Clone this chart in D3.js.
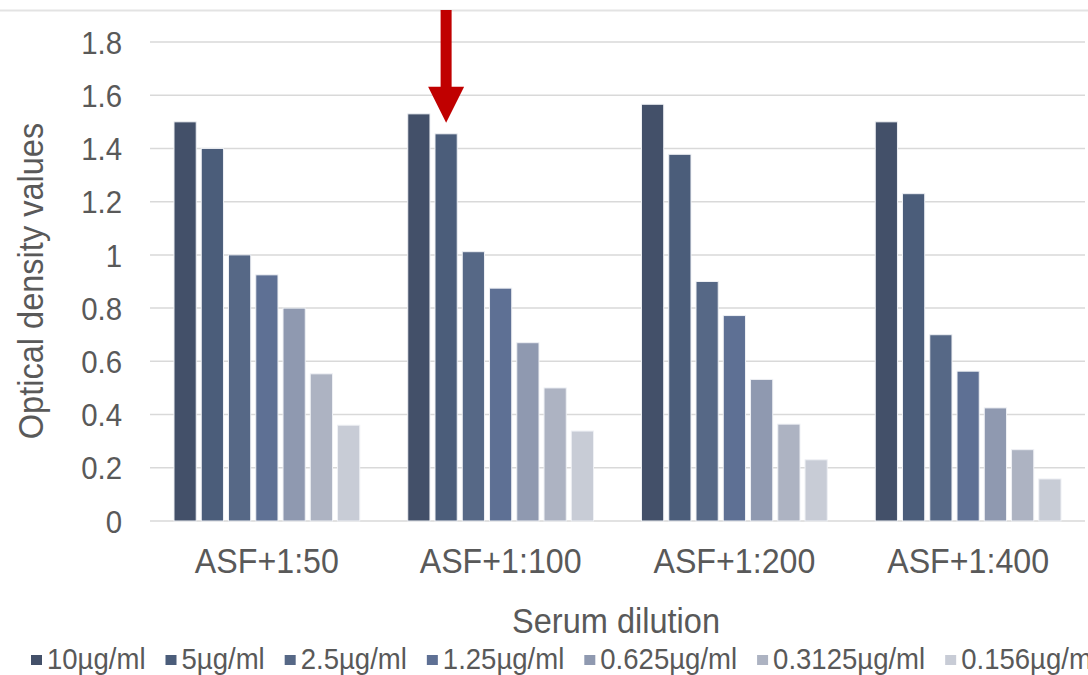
<!DOCTYPE html>
<html>
<head>
<meta charset="utf-8">
<script src="https://cdn.jsdelivr.net/npm/d3@7"></script>
<style>
  body { margin: 0; background: #fff; }
  svg text { font-family: "Liberation Sans", Arial, sans-serif; fill: #595959; }
</style>
</head>
<body>
<div id="chart"></div>
<script>
// dilution groups on the x axis
var categories = ["ASF+1:50", "ASF+1:100", "ASF+1:200", "ASF+1:400"];

// antigen concentrations (one series each)
var series = ["10µg/ml", "5µg/ml", "2.5µg/ml", "1.25µg/ml", "0.625µg/ml", "0.3125µg/ml", "0.156µg/ml"];
var seriesColors = ["#435069", "#4b5d7a", "#566886", "#5e7094", "#8f99b0", "#adb3c2", "#c8ccd6"];

// OD values, one array per dilution, in series order
var od_1_50  = [1.50, 1.40, 1.00, 0.925, 0.80, 0.553, 0.36];
var od_1_100 = [1.53, 1.455, 1.012, 0.875, 0.67, 0.50, 0.338];
var od_1_200 = [1.566, 1.378, 0.90, 0.772, 0.532, 0.364, 0.23];
var od_1_400 = [1.50, 1.23, 0.70, 0.563, 0.425, 0.268, 0.158];
var values = [od_1_50, od_1_100, od_1_200, od_1_400];

var yTicks = [0, 0.2, 0.4, 0.6, 0.8, 1, 1.2, 1.4, 1.6, 1.8];

// the arrow marks this bar
var highlight = { category: "ASF+1:100", series: "5µg/ml" };

var width = 1088, height = 675;
var margin = { left: 150, right: 3, top: 42, bottom: 154 };

var svg = d3.select("#chart").append("svg")
    .attr("width", width)
    .attr("height", height);

// the source font is a bit condensed, squeeze text horizontally
function narrowText(sel, x, yPos, sx) {
    sel.attr("transform", "translate(" + x + "," + yPos + ") scale(" + sx + ",1)")
        .attr("x", 0).attr("y", 0);
}

// thin page rule at the very top
svg.append("line")
    .attr("x1", 0).attr("x2", width)
    .attr("y1", 10.5).attr("y2", 10.5)
    .attr("stroke", "#e3e3e3").attr("stroke-width", 2);

var x0 = d3.scaleBand()
    .domain(categories)
    .range([margin.left, width - margin.right]);

var x1 = d3.scaleBand()
    .domain(series)
    .range([24, x0.bandwidth() - 24])
    .paddingInner(0.185);

var y = d3.scaleLinear()
    .domain([0, 1.8])
    .range([height - margin.bottom, margin.top]);

// gridlines
svg.append("g")
    .selectAll("line")
    .data(yTicks)
    .enter().append("line")
    .attr("x1", margin.left).attr("x2", width - margin.right)
    .attr("y1", function(d) { return y(d); })
    .attr("y2", function(d) { return y(d); })
    .attr("stroke", "#d9d9d9")
    .attr("stroke-width", 1.5);

// y tick labels
var yAxis = svg.append("g")
    .attr("transform", "translate(" + (margin.left - 25) + ",0)")
    .call(d3.axisLeft(y).tickValues(yTicks).tickSize(0).tickFormat(function(d) { return String(d); }));
yAxis.select(".domain").remove();
yAxis.selectAll("text")
    .attr("font-size", 31)
    .attr("font-family", "Liberation Sans, Arial, sans-serif")
    .attr("fill", "#595959")
    .attr("dy", "0.36em")
    .attr("transform", "scale(0.95,1)");

// bars
var groups = svg.append("g")
    .selectAll("g")
    .data(categories)
    .enter().append("g")
    .attr("transform", function(d) { return "translate(" + x0(d) + ",0)"; });

groups.selectAll("rect")
    .data(function(d, i) {
        return series.map(function(s, j) { return { category: d, series: s, value: values[i][j], idx: j }; });
    })
    .enter().append("rect")
    .attr("x", function(d) { return x1(d.series); })
    .attr("width", x1.bandwidth())
    .attr("y", function(d) { return y(d.value); })
    .attr("height", function(d) { return y(0) - y(d.value); })
    .attr("fill", function(d) { return seriesColors[d.idx]; })
    .attr("stroke", "#eef0f4")
    .attr("stroke-width", 1);

// category labels
svg.append("g")
    .selectAll("text")
    .data(categories)
    .enter().append("text")
    .attr("text-anchor", "middle")
    .attr("font-size", 35)
    .text(function(d) { return d; })
    .each(function(d) {
        narrowText(d3.select(this), x0(d) + x0.bandwidth() / 2, 572.5, 0.92);
    });

// axis titles
narrowText(svg.append("text")
    .attr("text-anchor", "middle")
    .attr("font-size", 35)
    .text("Serum dilution"), 616, 633, 0.93);

svg.append("text")
    .attr("transform", "translate(43,281) rotate(-90) scale(0.93,1)")
    .attr("text-anchor", "middle")
    .attr("font-size", 35)
    .text("Optical density values");

// legend
var legend = svg.append("g").attr("transform", "translate(31,658)");
var lx = 0;
series.forEach(function(s, i) {
    var item = legend.append("g").attr("transform", "translate(" + lx + ",0)");
    item.append("rect")
        .attr("x", 0).attr("y", -3)
        .attr("width", 11).attr("height", 10)
        .attr("fill", seriesColors[i]);
    var t = item.append("text")
        .attr("font-size", 29)
        .text(s);
    narrowText(t, 16, 10.5, 0.95);
    lx += 16 + t.node().getComputedTextLength() * 0.95 + 20;
});

// red arrow pointing at the highlighted bar
var ax = x0(highlight.category) + x1(highlight.series) + x1.bandwidth() / 2;
var tipY = y(1.455) - 11;
svg.append("rect")
    .attr("x", ax - 5.5).attr("y", 10)
    .attr("width", 11).attr("height", tipY - 34 - 10)
    .attr("fill", "#c00000");
svg.append("path")
    .attr("d", "M" + (ax - 18) + "," + (tipY - 36) + " L" + (ax + 18) + "," + (tipY - 36) + " L" + ax + "," + tipY + " Z")
    .attr("fill", "#c00000");
</script>
</body>
</html>
